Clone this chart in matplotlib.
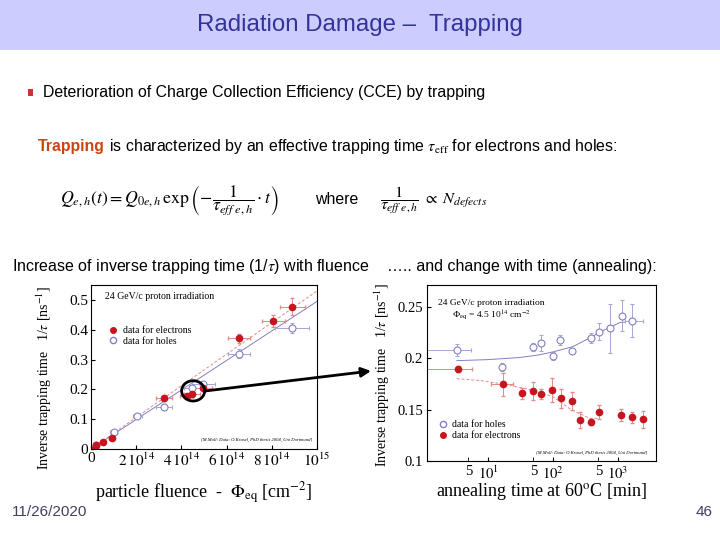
import matplotlib
matplotlib.use('Agg')
import matplotlib.pyplot as plt
from matplotlib.lines import Line2D
from matplotlib.patches import Ellipse, Rectangle
from matplotlib.ticker import FixedLocator, FixedFormatter

plt.rcParams['mathtext.fontset'] = 'stix'
plt.rcParams['font.family'] = ['Liberation Serif', 'DejaVu Serif']

# ---- left plot: 1/tau vs fluence (fluence in units of 1e14 cm^-2) ----
phi_e = [0.18, 0.2, 0.52, 0.91, 3.23, 4.23, 4.48, 4.97, 6.55, 8.07, 8.9]
inv_tau_e = [0.004, 0.012, 0.022, 0.038, 0.172, 0.178, 0.186, 0.204, 0.371, 0.430, 0.477]
phi_e_err = [0.05, 0.05, 0.08, 0.12, 0.35, 0.3, 0.35, 0.4, 0.48, 0.5, 0.55]
inv_tau_e_err = [0.004, 0.004, 0.005, 0.006, 0.01, 0.008, 0.01, 0.01, 0.015, 0.02, 0.028]

phi_h = [0.2, 1.0, 2.05, 3.23, 4.48, 4.97, 6.55, 8.9]
inv_tau_h = [0.012, 0.058, 0.112, 0.142, 0.205, 0.217, 0.319, 0.406]
phi_h_err = [0.05, 0.15, 0.2, 0.35, 0.35, 0.5, 0.5, 0.75]
inv_tau_h_err = [0.004, 0.006, 0.006, 0.01, 0.01, 0.01, 0.015, 0.018]

fit_phi = [0, 10]
fit_e = [0, 0.53]
fit_h = [0, 0.495]

phi_ticks = [0, 2, 4, 6, 8, 10]
phi_ticklabels = ['0', r'$2\,10^{14}$', r'$4\,10^{14}$', r'$6\,10^{14}$', r'$8\,10^{14}$', r'$10^{15}$']
inv_ticks_l = [0, 0.1, 0.2, 0.3, 0.4, 0.5]
inv_ticklabels_l = ['0', '0.1', '0.2', '0.3', '0.4', '0.5']

# ---- right plot: 1/tau vs annealing time (min) ----
t_h = [3.3, 16.3, 49.8, 64.6, 98.8, 128, 194, 381, 518, 753, 1140, 1630]
inv_tau_h2 = [0.208, 0.1916, 0.211, 0.2144, 0.2023, 0.2176, 0.207, 0.2198, 0.2257, 0.229, 0.241, 0.2364]
inv_tau_h2_err = [0.006, 0.004, 0.004, 0.008, 0.004, 0.005, 0.002, 0.005, 0.008, 0.024, 0.015, 0.016]
t_h_lo = [2.2, 0, 0, 0, 0, 0, 0, 0, 0, 0, 0, 350]
t_h_hi = [2.2, 0, 0, 0, 0, 0, 0, 0, 0, 0, 0, 770]

t_e = [3.4, 16.8, 33, 49.8, 65.6, 97.8, 131, 194, 260, 381, 508, 1112, 1630, 2455]
inv_tau_e2 = [0.189, 0.1745, 0.1657, 0.168, 0.165, 0.169, 0.1609, 0.1583, 0.140, 0.1375, 0.1478, 0.1446, 0.1424, 0.1405]
inv_tau_e2_err = [0.003, 0.011, 0.005, 0.009, 0.005, 0.012, 0.009, 0.009, 0.008, 0.003, 0.007, 0.006, 0.005, 0.008]
t_e_lo = [2.3, 5.5, 0, 0, 0, 0, 0, 0, 0, 0, 0, 0, 0, 0]
t_e_hi = [2.2, 7.7, 0, 0, 0, 0, 0, 0, 0, 0, 0, 0, 0, 0]

fit_t_h = [3.3, 10, 30, 60, 100, 200, 330, 600, 1070, 1300]
fit_inv_h = [0.1975, 0.1985, 0.2005, 0.203, 0.206, 0.211, 0.218, 0.227, 0.2345, 0.235]
fit_t_e = [3.3, 8, 17, 40, 100, 194, 370, 520]
fit_inv_e = [0.180, 0.178, 0.1748, 0.170, 0.1624, 0.1495, 0.1414, 0.1414]

inv_ticks_r = [0.1, 0.15, 0.2, 0.25]
inv_ticklabels_r = ['0.1', '0.15', '0.2', '0.25']

RED = '#c8141e'
RED_L = '#e58a8a'
BLUE = '#8080c4'
BLUE_L = '#a6a6d8'

fig = plt.figure(figsize=(7.2, 5.4), dpi=100)

# left plot
ax1 = fig.add_axes([91 / 720, 1 - 449 / 540, 226 / 720, 164 / 540])
ax1.plot(fit_phi, fit_h, color=BLUE, lw=0.7)
ax1.plot(fit_phi, fit_e, color=RED_L, lw=0.7, ls=(0, (3, 2)))
ax1.errorbar(phi_h, inv_tau_h, xerr=phi_h_err, yerr=inv_tau_h_err, fmt='o', ms=5,
             mfc='white', mec=BLUE, mew=0.8, ecolor=BLUE_L, elinewidth=0.7, capsize=1.5)
ax1.errorbar(phi_e, inv_tau_e, xerr=phi_e_err, yerr=inv_tau_e_err, fmt='o', ms=4.5,
             mfc=RED, mec=RED, ecolor=RED_L, elinewidth=0.7, capsize=1.5)
ax1.add_patch(Ellipse((4.52, 0.195), 1.02, 0.068, fill=False, ec='black', lw=2, zorder=5))
ax1.set_xlim(0, 10)
ax1.set_ylim(0, 0.55)
ax1.set_xticks(phi_ticks)
ax1.set_xticklabels(phi_ticklabels)
ax1.set_yticks(inv_ticks_l)
ax1.set_yticklabels(inv_ticklabels_l)
ax1.tick_params(direction='in', length=3, labelsize=11, pad=2)
ax1.set_ylabel(r'Inverse trapping time   1/$\tau$ [ns$^{-1}$]', fontsize=10)
ax1.yaxis.set_label_coords(-0.164, 0.43)
ax1.set_xlabel(r'particle fluence  -  $\Phi_{\rm eq}$ [cm$^{-2}$]', fontsize=13)
ax1.xaxis.set_label_coords(0.5, -0.19)
ax1.text(0.06, 0.93, '24 GeV/c proton irradiation', transform=ax1.transAxes, fontsize=7, va='center')
ax1.text(0.98, 0.055, '[M.Moll: Data: O.Krasel, PhD thesis 2004, Uni Dortmund]', transform=ax1.transAxes,
         fontsize=3.3, style='italic', ha='right', va='center')
h1 = [Line2D([], [], marker='o', ls='none', ms=4, mfc=RED, mec=RED),
      Line2D([], [], marker='o', ls='none', ms=4.5, mfc='white', mec=BLUE)]
ax1.legend(h1, ['data for electrons', 'data for holes'], loc='upper left', bbox_to_anchor=(0.06, 0.78),
           frameon=False, fontsize=7, handlelength=0.8, handletextpad=0.6, labelspacing=0.2, borderpad=0)

# right plot
ax2 = fig.add_axes([427 / 720, 1 - 461 / 540, 229 / 720, 176 / 540])
ax2.plot(fit_t_h, fit_inv_h, color=BLUE, lw=0.7)
ax2.plot(fit_t_e, fit_inv_e, color=RED_L, lw=0.7, ls=(0, (3, 2)))
ax2.errorbar(t_h, inv_tau_h2, xerr=[t_h_lo, t_h_hi], yerr=inv_tau_h2_err, fmt='o', ms=5,
             mfc='white', mec=BLUE, mew=0.8, ecolor=BLUE_L, elinewidth=0.7, capsize=1.5)
ax2.errorbar(t_e, inv_tau_e2, xerr=[t_e_lo, t_e_hi], yerr=inv_tau_e2_err, fmt='o', ms=4.5,
             mfc=RED, mec=RED, ecolor=RED_L, elinewidth=0.7, capsize=1.5)
ax2.set_xscale('log')
ax2.set_xlim(1.15, 3850)
ax2.set_ylim(0.1, 0.271)
ax2.xaxis.set_major_locator(FixedLocator([10, 100, 1000]))
ax2.xaxis.set_major_formatter(FixedFormatter([r'$10^{1}$', r'$10^{2}$', r'$10^{3}$']))
ax2.xaxis.set_minor_locator(FixedLocator([5, 50, 500]))
ax2.xaxis.set_minor_formatter(FixedFormatter(['5', '5', '5']))
ax2.set_yticks(inv_ticks_r)
ax2.set_yticklabels(inv_ticklabels_r)
ax2.tick_params(which='both', direction='in', length=3, labelsize=10.5, pad=3)
ax2.set_ylabel(r'Inverse trapping time   1/$\tau$ [ns$^{-1}$]', fontsize=10)
ax2.yaxis.set_label_coords(-0.153, 0.49)
ax2.set_xlabel(r'annealing time at 60$^{\rm o}$C [min]', fontsize=13)
ax2.xaxis.set_label_coords(0.5, -0.115)
ax2.text(0.28, 0.9, '24 GeV/c proton irradiation', transform=ax2.transAxes, fontsize=6.8, ha='center', va='center')
ax2.text(0.28, 0.83, r'$\Phi_{\rm eq}$ = 4.5 10$^{14}$ cm$^{-2}$', transform=ax2.transAxes, fontsize=6.8,
         ha='center', va='center')
ax2.text(0.96, 0.045, '[M.Moll: Data: O.Krasel, PhD thesis 2004, Uni Dortmund]', transform=ax2.transAxes,
         fontsize=3.3, style='italic', ha='right', va='center')
h2 = [Line2D([], [], marker='o', ls='none', ms=4.5, mfc='white', mec=BLUE),
      Line2D([], [], marker='o', ls='none', ms=4, mfc=RED, mec=RED)]
ax2.legend(h2, ['data for holes', 'data for electrons'], loc='lower left', bbox_to_anchor=(0.03, 0.09),
           frameon=False, fontsize=7, handlelength=0.8, handletextpad=0.6, labelspacing=0.2, borderpad=0)

# slide overlay in pixel coordinates
bg = fig.add_axes([0, 0, 1, 1])
bg.set_xlim(0, 720)
bg.set_ylim(540, 0)
bg.axis('off')
bg.set_zorder(10)
bg.patch.set_alpha(0)

sans = ['Liberation Sans', 'DejaVu Sans']
bg.add_patch(Rectangle((0, 0), 720, 50, fc='#ccccff', ec='none'))
bg.text(360, 25, 'Radiation Damage –  Trapping', family=sans, fontsize=17.3, color='#333399',
        ha='center', va='center')
bg.add_patch(Rectangle((28, 89), 5, 7, fc='#cc3333', ec='none'))
bg.text(43, 92, 'Deterioration of Charge Collection Efficiency (CCE) by trapping', family=sans,
        fontsize=11.4, va='center')
t1 = bg.text(38, 146, 'Trapping', family=sans, fontsize=11.4, color='#cc4411', weight='bold', va='center')
bg.annotate(r' is characterized by an effective trapping time $\tau_{\rm eff}$ for electrons and holes:',
            xy=(1, 0.5), xycoords=t1, va='center', family=sans, fontsize=11.4)
bg.text(60, 200, r'$Q_{e,h}(t) = Q_{0e,h}\,\exp\left(-\dfrac{1}{\tau_{eff\ e,h}}\cdot t\right)$',
        fontsize=12.8, va='center')
bg.text(315, 200, 'where', family=sans, fontsize=11.4, va='center')
bg.text(380, 200, r'$\dfrac{1}{\tau_{eff\ e,h}}\ \propto\ N_{defects}$', fontsize=11.8, va='center')
bg.text(12, 266, r'Increase of inverse trapping time (1/$\tau$) with fluence', family=sans,
        fontsize=11.5, va='center')
bg.text(387, 266, '….. and change with time (annealing):', family=sans, fontsize=11.5, va='center')
bg.text(12, 512, '11/26/2020', family=sans, fontsize=11, color='#404060', va='center')
bg.text(713, 512, '46', family=sans, fontsize=11, color='#404060', va='center', ha='right')
bg.annotate('', xy=(371, 371), xytext=(205, 391),
            arrowprops=dict(arrowstyle='-|>', lw=2, color='black', mutation_scale=14, shrinkA=0, shrinkB=0))

fig.savefig('out.png', dpi=100)
